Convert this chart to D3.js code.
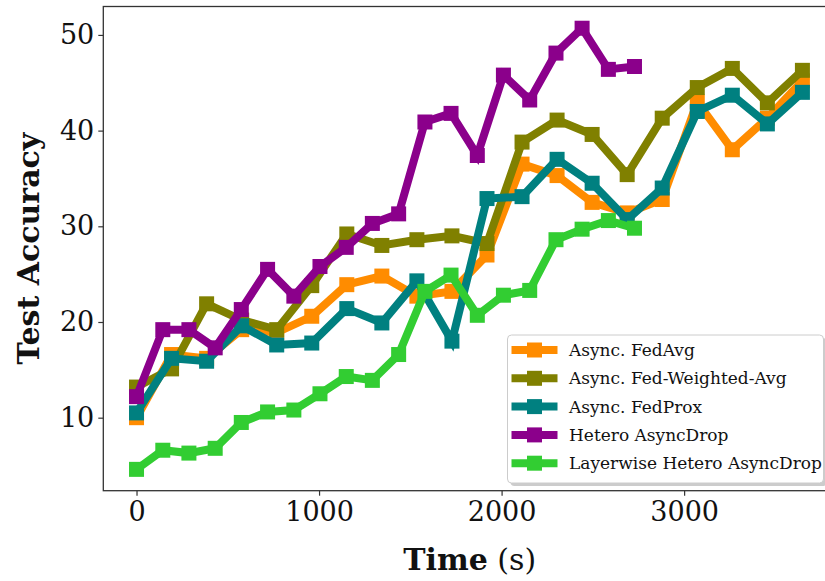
<!DOCTYPE html>
<html>
<head>
<meta charset="utf-8">
<script src="https://cdn.jsdelivr.net/npm/d3@7/dist/d3.min.js"></script>
<style>
    body { margin: 0; background: #fff; }
    svg { display: block; }
    .axis text { font-family: "DejaVu Serif", serif; fill: #111; }
    .legend-text { font-family: "DejaVu Serif", serif; fill: #111; }
</style>
</head>
<body>
<div id="chart-area"></div>
<script>

// Time (s) of each evaluation point
const timeAsync = [0, 192, 384, 576, 768, 960, 1152, 1344, 1536, 1728, 1920, 2112, 2304, 2496, 2688, 2880, 3072, 3264, 3456, 3648];
const timeHetero = [0, 144, 287, 431, 574, 718, 862, 1005, 1149, 1292, 1436, 1580, 1723, 1867, 2010, 2154, 2298, 2441, 2585, 2728];

// Test accuracy of each method
const fedAvg = [10.0, 16.6, 16.2, 19.2, 18.9, 20.6, 23.9, 24.8, 22.7, 23.2, 27.0, 36.5, 35.3, 32.5, 31.4, 32.8, 43.0, 38.0, 41.3, 45.2];
const fedWeightedAvg = [13.2, 15.1, 21.9, 20.2, 19.2, 23.8, 29.2, 28.0, 28.6, 29.0, 28.2, 38.8, 41.1, 39.6, 35.4, 41.3, 44.5, 46.5, 42.9, 46.3];
const fedProx = [10.5, 16.2, 15.9, 19.6, 17.6, 17.8, 21.4, 19.9, 24.3, 18.0, 32.9, 33.1, 37.0, 34.5, 30.7, 34.0, 42.0, 43.7, 40.7, 44.0];
const heteroAsyncDrop = [12.2, 19.2, 19.2, 17.3, 21.3, 25.5, 22.7, 25.8, 27.8, 30.3, 31.3, 40.9, 41.8, 37.4, 45.8, 43.2, 48.1, 50.7, 46.4, 46.7];
const layerwiseAsyncDrop = [4.6, 6.6, 6.3, 6.8, 9.5, 10.6, 10.8, 12.5, 14.3, 13.9, 16.6, 23.2, 24.9, 20.7, 22.8, 23.3, 28.6, 29.7, 30.6, 29.8];

const seriesNames = ["Async. FedAvg", "Async. Fed-Weighted-Avg", "Async. FedProx", "Hetero AsyncDrop", "Layerwise Hetero AsyncDrop"];
const seriesColors = ["#ff8c00", "#808000", "#008080", "#8b008b", "#32cd32"];

const xTicks = [0, 1000, 2000, 3000];
const yTicks = [10, 20, 30, 40, 50];

// zip up time + accuracy for each line
const series = [
    { name: seriesNames[0], color: seriesColors[0], values: timeAsync.map((t, i) => ({ t: t, acc: fedAvg[i] })) },
    { name: seriesNames[1], color: seriesColors[1], values: timeAsync.map((t, i) => ({ t: t, acc: fedWeightedAvg[i] })) },
    { name: seriesNames[2], color: seriesColors[2], values: timeAsync.map((t, i) => ({ t: t, acc: fedProx[i] })) },
    { name: seriesNames[3], color: seriesColors[3], values: timeHetero.map((t, i) => ({ t: t, acc: heteroAsyncDrop[i] })) },
    { name: seriesNames[4], color: seriesColors[4], values: timeHetero.map((t, i) => ({ t: t, acc: layerwiseAsyncDrop[i] })) }
];

const width = 825, height = 581;
const margin = { top: 6.5, right: -11, bottom: 90.3, left: 103.3 };
const innerW = width - margin.left - margin.right;
const innerH = height - margin.top - margin.bottom;

const svg = d3.select("#chart-area").append("svg")
    .attr("width", width)
    .attr("height", height);

const g = svg.append("g")
    .attr("transform", "translate(" + margin.left + "," + margin.top + ")");

// Scales (matplotlib style 5% padding around the data)
const x = d3.scaleLinear().domain([-182, 3832]).range([0, innerW]);
const y = d3.scaleLinear().domain([2.37, 52.97]).range([innerH, 0]);

const xAxis = d3.axisBottom(x).tickValues(xTicks).tickSize(5).tickPadding(6).tickFormat(d3.format("d"));
const yAxis = d3.axisLeft(y).tickValues(yTicks).tickSize(5).tickPadding(4).tickFormat(d3.format("d"));

g.append("g")
    .attr("class", "x-axis axis")
    .attr("transform", "translate(0," + innerH + ")")
    .call(xAxis);

g.append("g")
    .attr("class", "y-axis axis")
    .call(yAxis);

g.selectAll(".axis path").remove();
g.selectAll(".axis line").attr("stroke", "#333").attr("stroke-width", 1.2);
g.selectAll(".axis text").style("font-size", "27px");

// Frame
g.append("rect")
    .attr("width", innerW)
    .attr("height", innerH)
    .attr("fill", "none")
    .attr("stroke", "#333")
    .attr("stroke-width", 1.3);

// Lines + markers
const line = d3.line()
    .x(d => x(d.t))
    .y(d => y(d.acc));

const markerSize = 15;

series.forEach(s => {
    const sg = g.append("g").attr("class", "series");

    sg.append("path")
        .datum(s.values)
        .attr("fill", "none")
        .attr("stroke", s.color)
        .attr("stroke-width", 8)
        .attr("stroke-linejoin", "miter")
        .attr("d", line);

    sg.selectAll("rect")
        .data(s.values)
        .enter().append("rect")
        .attr("x", d => x(d.t) - markerSize / 2)
        .attr("y", d => y(d.acc) - markerSize / 2)
        .attr("width", markerSize)
        .attr("height", markerSize)
        .attr("fill", s.color);
});

// Legend
const legend = svg.append("g")
    .attr("class", "legend")
    .attr("transform", "translate(507.5,335)");

legend.append("rect")
    .attr("x", 3).attr("y", 3)
    .attr("width", 316).attr("height", 148)
    .attr("rx", 4)
    .attr("fill", "#aaa")
    .attr("opacity", 0.6);

legend.append("rect")
    .attr("width", 316).attr("height", 148)
    .attr("rx", 4)
    .attr("fill", "#fff")
    .attr("stroke", "#ccc")
    .attr("stroke-width", 1);

const legendItems = legend.selectAll(".legend-item")
    .data(series)
    .enter().append("g")
    .attr("class", "legend-item")
    .attr("transform", (d, i) => "translate(0," + (15 + i * 28.3) + ")");

legendItems.append("line")
    .attr("x1", 4).attr("x2", 50)
    .attr("stroke", d => d.color)
    .attr("stroke-width", 8);

legendItems.append("rect")
    .attr("x", 27 - markerSize / 2)
    .attr("y", -markerSize / 2)
    .attr("width", markerSize)
    .attr("height", markerSize)
    .attr("fill", d => d.color);

legendItems.append("text")
    .attr("class", "legend-text")
    .attr("x", 61.5)
    .attr("y", 6)
    .style("font-size", "17px")
    .text(d => d.name);

// Axis titles
svg.append("text")
    .attr("transform", "translate(39," + (margin.top + innerH / 2) + ") rotate(-90)")
    .attr("text-anchor", "middle")
    .style("font-family", "DejaVu Serif, serif")
    .style("font-size", "30px")
    .style("font-weight", "bold")
    .style("fill", "#111")
    .text("Test Accuracy");

const xTitle = svg.append("text")
    .attr("x", margin.left + innerW / 2)
    .attr("y", 570)
    .attr("text-anchor", "middle")
    .style("font-family", "DejaVu Serif, serif")
    .style("font-size", "30px")
    .style("fill", "#111");

xTitle.append("tspan").style("font-weight", "bold").text("Time");
xTitle.append("tspan").text(" (s)");

</script>
</body>
</html>
